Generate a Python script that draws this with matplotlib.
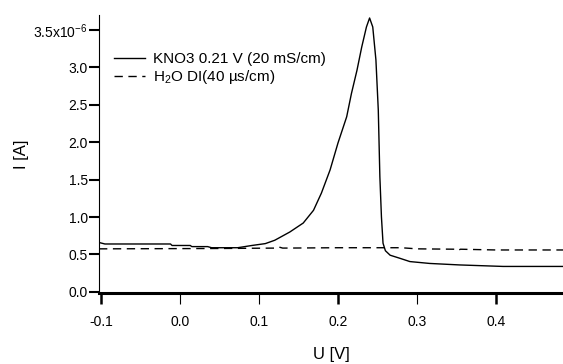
import numpy as np
import matplotlib
matplotlib.use("Agg")
import matplotlib.pyplot as plt

plt.rcParams['font.family'] = ['Liberation Sans', 'DejaVu Sans']
plt.rcParams['mathtext.fontset'] = 'custom'
plt.rcParams['mathtext.rm'] = 'Liberation Sans'

# KNO3 curve (current in 1e-6 A)
u_kno3 = [-0.1025, -0.095, -0.012, -0.010, 0.013, 0.015, 0.035, 0.040, 0.073, 0.091,
          0.108, 0.120, 0.139, 0.156, 0.169, 0.179, 0.190, 0.200, 0.211, 0.217,
          0.224, 0.230, 0.236, 0.240, 0.244, 0.248, 0.251, 0.253, 0.255, 0.257,
          0.260, 0.266, 0.278, 0.291, 0.316, 0.354, 0.409, 0.485]
i_kno3 = [0.66, 0.64, 0.64, 0.62, 0.62, 0.605, 0.605, 0.59, 0.59, 0.62,
          0.645, 0.69, 0.80, 0.92, 1.09, 1.32, 1.63, 1.99, 2.34, 2.65,
          2.96, 3.27, 3.54, 3.66, 3.54, 3.10, 2.43, 1.54, 1.00, 0.65,
          0.55, 0.49, 0.45, 0.405, 0.38, 0.36, 0.34, 0.34]

# H2O DI curve
u_h2o = [-0.1025, 0.05, 0.12, 0.125, 0.13, 0.20, 0.28, 0.30, 0.35, 0.352, 0.355, 0.40, 0.485]
i_h2o = [0.575, 0.58, 0.585, 0.60, 0.585, 0.59, 0.59, 0.575, 0.57, 0.555, 0.57, 0.56, 0.56]

yticks = [0.0, 0.5, 1.0, 1.5, 2.0, 2.5, 3.0, 3.5]
ylabels = ['0.0', '0.5', '1.0', '1.5', '2.0', '2.5', '3.0', '3.5x10$^{\\mathregular{-6}}$']
xticks = [-0.1, 0.0, 0.1, 0.2, 0.3, 0.4]
xlabels = ['-0.1', '0.0', '0.1', '0.2', '0.3', '0.4']

fig = plt.figure(figsize=(5.63, 3.64), dpi=100)
ax = fig.add_axes([99/563, 71/364, 464/563, 278/364])

ax.plot(u_kno3, i_kno3, color='black', lw=1.0, label='KNO3 0.21 V (20 mS/cm)')
ax.plot(u_h2o, i_h2o, color='black', lw=1.0, dashes=(6, 4), label='H$_2$O DI(40 µs/cm)')

ax.set_xlim(-0.1025, 0.4848)
ax.set_ylim(-0.015, 3.70)

ax.spines['top'].set_visible(False)
ax.spines['right'].set_visible(False)
ax.spines['left'].set_linewidth(0.8)
ax.spines['bottom'].set_linewidth(2.2)

ax.set_yticks(yticks)
ax.set_yticklabels(ylabels)
ax.set_xticks(xticks)
ax.set_xticklabels(xlabels)
ax.tick_params(axis='y', direction='out', length=7, width=1.5, pad=1, labelsize=10)
ax.tick_params(axis='x', direction='out', length=8, width=0.8, pad=8, labelsize=10)
# thicker ticks at -0.1, 0.2 and 0.4 as in the original
for k, t in enumerate(ax.xaxis.get_major_ticks()):
    if k in (0, 3, 5):
        t.tick1line.set_markeredgewidth(1.8)

ax.set_xlabel('U [V]', fontsize=12, labelpad=13)
ax.set_ylabel('I [A]', fontsize=12)
ax.yaxis.set_label_coords(-0.151, 0.50)

ax.legend(loc='upper left', bbox_to_anchor=(0.01, 0.905), frameon=False, fontsize=11,
          handlelength=2.0, handletextpad=0.5, labelspacing=0.12, borderpad=0.2)

fig.savefig('out.png', dpi=100)
